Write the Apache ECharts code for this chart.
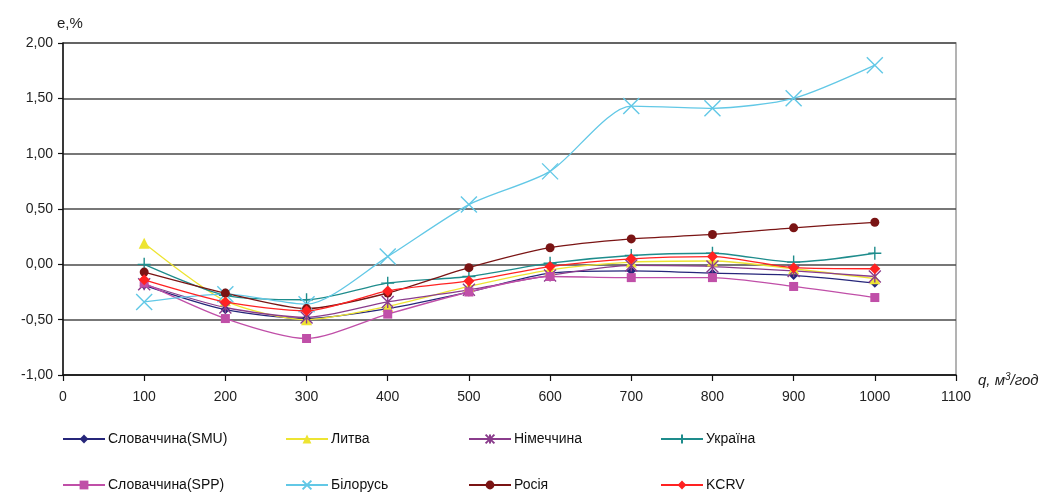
<!DOCTYPE html>
<html>
<head>
<meta charset="utf-8">
<script src="https://cdn.jsdelivr.net/npm/echarts@6/dist/echarts.min.js"></script>
<style>html,body{margin:0;padding:0;background:#fff;}#c{width:1057px;height:494px;}</style>
</head>
<body>
<div id="c"></div>
<script>
const q = [100, 200, 300, 400, 500, 600, 700, 800, 900, 1000];
const seriesNames = ['Словаччина(SMU)', 'Литва', 'Німеччина', 'Україна', 'Словаччина(SPP)', 'Білорусь', 'Росія', 'KCRV'];
const slovakSMU = [-0.19, -0.41, -0.49, -0.40, -0.25, -0.08, -0.06, -0.08, -0.10, -0.17];
const lithuania = [0.19, -0.33, -0.50, -0.38, -0.20, -0.05, 0.02, 0.03, -0.04, -0.13];
const germany   = [-0.18, -0.39, -0.48, -0.34, -0.23, -0.10, -0.01, -0.02, -0.06, -0.11];
const ukraine   = [0.00, -0.28, -0.32, -0.17, -0.11, 0.01, 0.08, 0.10, 0.02, 0.10];
const slovakSPP = [-0.17, -0.49, -0.67, -0.45, -0.25, -0.11, -0.12, -0.12, -0.20, -0.30];
const belarus   = [-0.34, -0.27, -0.36, 0.07, 0.54, 0.84, 1.43, 1.41, 1.50, 1.80];
const russia    = [-0.07, -0.26, -0.40, -0.26, -0.03, 0.15, 0.23, 0.27, 0.33, 0.38];
const kcrv      = [-0.14, -0.34, -0.42, -0.24, -0.15, -0.02, 0.05, 0.07, -0.03, -0.04];
const yTicks = [-1, -0.5, 0, 0.5, 1, 1.5, 2];
const xTicks = [0, 100, 200, 300, 400, 500, 600, 700, 800, 900, 1000, 1100];

const allValues = [slovakSMU, lithuania, germany, ukraine, slovakSPP, belarus, russia, kcrv];
const colors = ['#26267A', '#EDE432', '#8A3C8C', '#1E8C8C', '#C04FA8', '#62C8E6', '#7A1414', '#FF2222'];
const X = 'path://M0,0L10,10M10,0L0,10';
const PLUS = 'path://M5,0L5,10M0,5L10,5';
const AST = 'path://M0,0L10,10M10,0L0,10M5,0L5,10';
const symbols = ['diamond', 'triangle', AST, PLUS, 'rect', X, 'circle', 'diamond'];
const symSizes = [9, 11, 12, 13, 9, 16, 9, 11];
const lineSym = [false, false, true, true, false, true, false, false];

const series = seriesNames.map((n, i) => ({
  name: n,
  type: 'line',
  smooth: 0.25,
  data: q.map((x, k) => [x, allValues[i][k]]),
  symbol: symbols[i],
  symbolSize: symSizes[i],
  showAllSymbol: true,
  z: i === 7 ? 12 : 10,
  lineStyle: { color: colors[i], width: 1.3 },
  itemStyle: lineSym[i]
    ? { color: colors[i], borderColor: colors[i], borderWidth: 1.4 }
    : { color: colors[i], borderWidth: 0 },
  emphasis: { disabled: true }
}));

const legendPos = [
  [62, 432], [285, 432], [468, 432], [660, 432],
  [62, 478], [285, 478], [468, 478], [660, 478]
];
const legends = seriesNames.map((n, i) => ({
  data: [n],
  left: legendPos[i][0],
  top: legendPos[i][1],
  orient: 'horizontal',
  itemWidth: 42,
  itemHeight: 11,
  itemGap: 4,
  padding: 0,
  selectedMode: false,
  textStyle: { fontFamily: 'Liberation Sans', fontSize: 14, color: '#111', padding: [0, 0, 0, -2] }
}));

const chart = echarts.init(document.getElementById('c'), null, { renderer: 'canvas' });
chart.setOption({
  animation: false,
  backgroundColor: '#fff',
  grid: { left: 63, right: 101, top: 43, bottom: 119, show: true, borderColor: '#9a9a9a', borderWidth: 1.5, containLabel: false },
  legend: legends,
  xAxis: {
    type: 'value',
    min: xTicks[0],
    max: xTicks[xTicks.length - 1],
    interval: 100,
    name: 'q, м{s|3}/год',
    nameLocation: 'end',
    nameGap: 22,
    nameTextStyle: {
      fontFamily: 'Liberation Sans', fontStyle: 'italic', fontSize: 15, color: '#222',
      padding: [12, 0, 0, 0],
      rich: { s: { fontSize: 10, fontStyle: 'italic', fontFamily: 'Liberation Sans', verticalAlign: 'top', padding: [0, 0, 8, 0], color: '#222' } }
    },
    axisLine: { show: true, onZero: false, lineStyle: { color: '#111', width: 1.5 } },
    axisTick: { show: true, inside: false, length: 6, lineStyle: { color: '#111', width: 1.2 } },
    axisLabel: { fontFamily: 'Liberation Sans', fontSize: 14, color: '#222', margin: 15, formatter: v => String(v) },
    splitLine: { show: false }
  },
  yAxis: {
    type: 'value',
    min: yTicks[0],
    max: yTicks[yTicks.length - 1],
    interval: 0.5,
    name: 'e,%',
    nameLocation: 'end',
    nameGap: 12,
    nameTextStyle: { fontFamily: 'Liberation Sans', fontSize: 15, color: '#222', align: 'left', padding: [0, 0, 0, -6] },
    axisLine: { show: true, onZero: false, lineStyle: { color: '#111', width: 1.5 } },
    axisTick: { show: true, inside: false, length: 5, lineStyle: { color: '#111', width: 1.2 } },
    axisLabel: {
      fontFamily: 'Liberation Sans', fontSize: 14, color: '#222', margin: 10,
      formatter: v => v.toFixed(2).replace('.', ',')
    },
    splitLine: { show: true, lineStyle: { color: '#4a4a4a', width: 1.6 } }
  },
  series: series
});
</script>
</body>
</html>
